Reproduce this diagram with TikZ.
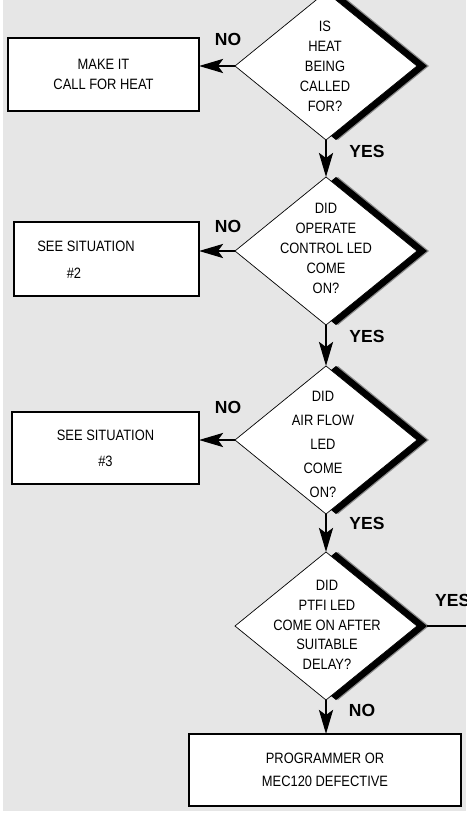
\documentclass[tikz,border=0pt]{standalone}
\usepackage{fontspec}
\setmainfont{Liberation Sans}
\newfontfamily\condfont[FakeStretch=0.86]{Liberation Sans}
\usetikzlibrary{shapes.geometric,arrows.meta}
\definecolor{bggray}{HTML}{E6E6E6}
\definecolor{shgray}{HTML}{8C8C8C}
\tikzset{
  diam/.style={diamond, minimum width=182pt, minimum height=148pt, inner sep=0pt, outer sep=0pt},
  decision/.style={diam, draw=black, line width=0.7pt, fill=white},
  shadowA/.style={diam, fill=shgray},
  shadowB/.style={diam, fill=black},
  dtext/.style={font=\condfont\fontsize{15}{20}\selectfont, align=center, inner sep=0pt},
  box/.style={draw=black, line width=1.5pt, fill=white, inner sep=0pt, outer sep=0pt, align=center,
    font=\condfont\fontsize{15}{20}\selectfont},
  lab/.style={font=\bfseries\fontsize{17.5}{20}\selectfont, inner sep=0pt},
  arr/.style={line width=2.7pt, -{Stealth[length=24pt,width=14pt,inset=5pt]}},
}
\begin{document}
\begin{tikzpicture}[x=1pt,y=-1pt]
\useasboundingbox (0,0) rectangle (466,813);
\fill[bggray] (3,0) rectangle (466,811);

% decision 1
\node[shadowA] (D1g) at (338,66) {};
\node[shadowB] (D1b) at (336,66) {};
\node[decision] (D1) at (326,66) {};
\node[dtext] (T1) at (325,66.5) {IS\\HEAT\\BEING\\CALLED\\FOR?};

% decision 2
\node[shadowA] (D2g) at (338,251) {};
\node[shadowB] (D2b) at (336,251) {};
\node[decision] (D2) at (326,251) {};
\node[dtext] (T2) at (326,248) {DID\\OPERATE\\CONTROL LED\\COME\\ON?};

% decision 3
\node[shadowA] (D3g) at (338,440) {};
\node[shadowB] (D3b) at (336,440) {};
\node[decision] (D3) at (326,440) {};
\node[dtext, font=\condfont\fontsize{15}{24}\selectfont] (T3) at (323,444) {DID\\AIR FLOW\\LED\\COME\\ON?};

% decision 4
\node[shadowA] (D4g) at (338,626) {};
\node[shadowB] (D4b) at (336,626) {};
\node[decision] (D4) at (326,626) {};
\node[dtext, font=\condfont\fontsize{15}{19.7}\selectfont] (T4) at (327,625) {DID\\PTFI LED\\COME ON AFTER\\SUITABLE\\DELAY?};

% boxes
\node[box, minimum width=191pt, minimum height=73pt] (B1) at (103.5,74.5) {MAKE IT\\CALL FOR HEAT};
\node[box, minimum width=185pt, minimum height=74pt] (B2) at (106.5,259) {};
\node[dtext] (B2a) at (86,246) {SEE SITUATION};
\node[dtext] (B2b) at (74,273) {\#2};
\node[box, minimum width=187pt, minimum height=72pt, font=\condfont\fontsize{15}{26}\selectfont] (B3) at (105.5,448) {SEE SITUATION\\\#3};
\node[box, minimum width=272pt, minimum height=72pt, font=\condfont\fontsize{15}{23}\selectfont] (B4) at (325,770) {PROGRAMMER OR\\MEC120 DEFECTIVE};

% connectors
\coordinate (E4) at (466,626);
\draw[arr] (D1.west) -- (D1.west -| B1.east);
\draw[arr] (D2.west) -- (D2.west -| B2.east);
\draw[arr] (D3.west) -- (D3.west -| B3.east);
\draw[arr] (D1.south) -- (D2.north);
\draw[arr] (D2.south) -- (D3.north);
\draw[arr] (D3.south) -- (D4.north);
\draw[arr] (D4.south) -- (D4.south |- B4.north);
\draw[line width=2.5pt] (D4b.east) -- (E4);

% labels
\node[lab] (L1n) at (228,39) {NO};
\node[lab] (L1y) at (367,151) {YES};
\node[lab] (L2n) at (228,226) {NO};
\node[lab] (L2y) at (367,336) {YES};
\node[lab] (L3n) at (228,407) {NO};
\node[lab] (L3y) at (367,523) {YES};
\node[lab, anchor=west] (L4y) at (435,600) {YES};
\node[lab] (L4n) at (362,710) {NO};
\end{tikzpicture}
\end{document}
